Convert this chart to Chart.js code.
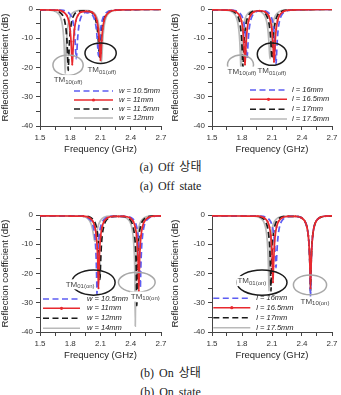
<!DOCTYPE html>
<html><head><meta charset="utf-8">
<script src="https://cdn.jsdelivr.net/npm/chart.js@4"></script>
<style>
html,body{margin:0;padding:0;background:#fff;}
body{width:341px;height:395px;position:relative;overflow:hidden;}
canvas{position:absolute;}
.cap{position:absolute;left:0;width:341px;text-align:center;font-family:"Liberation Serif","Noto Sans CJK KR",serif;font-size:12px;line-height:14px;color:#222;word-spacing:2px;white-space:nowrap;}
</style></head><body>
<canvas id="c1" width="170" height="160" style="left:0;top:0"></canvas>
<canvas id="c2" width="171" height="160" style="left:170px;top:0"></canvas>
<canvas id="c3" width="170" height="171" style="left:0;top:195px"></canvas>
<canvas id="c4" width="171" height="171" style="left:170px;top:195px"></canvas>
<div class="cap" style="top:160px">(a) Off 상태</div>
<div class="cap" style="top:179px">(a) Off state</div>
<div class="cap" style="top:366px">(b) On 상태</div>
<div class="cap" style="top:385px">(b) On state</div>
<script>
// ---------- tick values / labels ----------
const xTicks = [1.5,1.65,1.8,1.95,2.1,2.25,2.4,2.55,2.7];
const xTickLabels = ['1.5','','1.8','','2.1','','2.4','','2.7'];
const yTicks = [-40,-35,-30,-25,-20,-15,-10,-5,0];
const yTickLabels = ['-40','','-30','','-20','','-10','','0'];

// ---------- series: [frequency GHz, reflection coefficient dB] ----------
// (a) Off state, width sweep
const offW105 = [[1.5,-0.3],[1.65,-0.35],[1.71,-0.4],[1.77,-0.95],[1.805,-2.2],[1.825,-4.1],[1.838,-6.8],[1.848,-10.7],[1.855,-15],[1.86,-17],[1.865,-15],[1.872,-10.7],[1.882,-6.8],[1.895,-4.1],[1.915,-2.2],[1.95,-1.2],[1.97,-1.3],[1.99,-1.2],[2.025,-2.3],[2.045,-4.1],[2.058,-6.7],[2.068,-10.5],[2.075,-14.3],[2.08,-16],[2.085,-14.3],[2.092,-10.5],[2.102,-6.7],[2.115,-4.1],[2.135,-2.2],[2.17,-0.95],[2.23,-0.4],[2.4,-0.2],[2.7,-0.1]];
const offW11 = [[1.5,-0.3],[1.6,-0.35],[1.67,-0.4],[1.73,-0.95],[1.765,-2.2],[1.785,-4.1],[1.798,-6.9],[1.808,-11.1],[1.815,-16.1],[1.82,-19],[1.825,-16.1],[1.832,-11.1],[1.842,-6.9],[1.855,-4.1],[1.875,-2.2],[1.91,-1.0],[1.96,-0.8],[2.01,-1.0],[2.045,-2.2],[2.065,-4.1],[2.078,-6.8],[2.088,-10.7],[2.095,-15],[2.1,-17.5],[2.105,-15],[2.112,-10.7],[2.122,-6.8],[2.135,-4.1],[2.155,-2.2],[2.19,-0.95],[2.25,-0.4],[2.4,-0.2],[2.7,-0.1]];
const offW115 = [[1.5,-0.3],[1.57,-0.35],[1.63,-0.4],[1.69,-0.95],[1.725,-2.2],[1.745,-4.1],[1.758,-7.0],[1.768,-11.3],[1.775,-17.0],[1.78,-21],[1.785,-17.0],[1.792,-11.3],[1.802,-7.0],[1.815,-4.1],[1.835,-2.2],[1.87,-0.95],[1.935,-0.6],[2.0,-0.95],[2.035,-2.2],[2.055,-4.1],[2.068,-6.7],[2.078,-10.6],[2.085,-14.6],[2.09,-16.5],[2.095,-14.6],[2.102,-10.6],[2.112,-6.7],[2.125,-4.1],[2.145,-2.2],[2.18,-0.95],[2.24,-0.4],[2.4,-0.2],[2.7,-0.1]];
const offW12 = [[1.5,-0.35],[1.6,-0.4],[1.66,-0.95],[1.695,-2.2],[1.715,-4.2],[1.728,-7.0],[1.738,-11.4],[1.745,-17.4],[1.75,-22],[1.755,-17.4],[1.762,-11.4],[1.772,-7.0],[1.785,-4.2],[1.805,-2.2],[1.84,-0.95],[1.93,-0.5],[2.02,-0.95],[2.055,-2.2],[2.075,-4.1],[2.088,-6.9],[2.098,-10.9],[2.105,-15.6],[2.11,-18],[2.115,-15.6],[2.122,-10.9],[2.132,-6.9],[2.145,-4.1],[2.165,-2.2],[2.2,-0.95],[2.26,-0.4],[2.4,-0.2],[2.7,-0.1]];

// (a) Off state, length sweep
const offL16 = [[1.5,-0.3],[1.64,-0.35],[1.70,-0.4],[1.76,-0.95],[1.795,-2.2],[1.815,-4.1],[1.828,-6.8],[1.838,-10.7],[1.845,-15],[1.85,-17],[1.855,-15],[1.862,-10.7],[1.872,-6.8],[1.885,-4.1],[1.905,-2.2],[1.94,-0.95],[1.995,-0.6],[2.05,-0.95],[2.085,-2.2],[2.105,-4.1],[2.118,-6.9],[2.128,-11.1],[2.135,-16.1],[2.14,-19],[2.145,-16.1],[2.152,-11.1],[2.162,-6.9],[2.175,-4.1],[2.195,-2.2],[2.23,-0.95],[2.29,-0.4],[2.45,-0.2],[2.7,-0.1]];
const offL165 = [[1.5,-0.3],[1.62,-0.35],[1.68,-0.4],[1.74,-0.95],[1.775,-2.2],[1.795,-4.1],[1.808,-6.9],[1.818,-11.1],[1.825,-16.1],[1.83,-19],[1.835,-16.1],[1.842,-11.1],[1.852,-6.9],[1.865,-4.1],[1.885,-2.2],[1.92,-0.95],[1.975,-0.6],[2.03,-0.95],[2.065,-2.2],[2.085,-4.1],[2.098,-6.9],[2.108,-10.9],[2.115,-15.6],[2.12,-18],[2.125,-15.6],[2.132,-10.9],[2.142,-6.9],[2.155,-4.1],[2.175,-2.2],[2.21,-0.95],[2.27,-0.4],[2.45,-0.2],[2.7,-0.1]];
const offL17 = [[1.5,-0.3],[1.6,-0.35],[1.66,-0.4],[1.72,-0.95],[1.755,-2.2],[1.775,-4.2],[1.788,-7.0],[1.798,-11.2],[1.805,-16.6],[1.81,-20],[1.815,-16.6],[1.822,-11.2],[1.832,-7.0],[1.845,-4.2],[1.865,-2.2],[1.9,-0.95],[1.955,-0.6],[2.01,-0.95],[2.045,-2.2],[2.065,-4.1],[2.078,-6.8],[2.088,-10.7],[2.095,-15],[2.1,-17],[2.105,-15],[2.112,-10.7],[2.122,-6.8],[2.135,-4.1],[2.155,-2.2],[2.19,-0.95],[2.25,-0.4],[2.45,-0.2],[2.7,-0.1]];
const offL175 = [[1.5,-0.3],[1.58,-0.35],[1.64,-0.4],[1.70,-0.95],[1.735,-2.2],[1.755,-4.2],[1.768,-7.0],[1.778,-11.3],[1.785,-17.0],[1.79,-21],[1.795,-17.0],[1.802,-11.3],[1.812,-7.0],[1.825,-4.2],[1.845,-2.2],[1.88,-0.95],[1.935,-0.6],[1.99,-0.95],[2.025,-2.2],[2.045,-4.1],[2.058,-6.8],[2.068,-10.7],[2.075,-15],[2.08,-17],[2.085,-15],[2.092,-10.7],[2.102,-6.8],[2.115,-4.1],[2.135,-2.2],[2.17,-0.95],[2.23,-0.4],[2.45,-0.2],[2.7,-0.1]];

// (b) On state, width sweep
const onW105 = [[1.5,-0.3],[1.8,-0.35],[1.915,-0.4],[1.975,-0.95],[2.01,-2.2],[2.03,-4.2],[2.043,-7.1],[2.053,-11.7],[2.06,-18.5],[2.065,-27],[2.07,-18.5],[2.077,-11.7],[2.087,-7.1],[2.1,-4.2],[2.12,-2.2],[2.155,-0.95],[2.215,-0.45],[2.28,-0.5],[2.345,-0.45],[2.405,-0.95],[2.44,-2.2],[2.46,-4.2],[2.473,-7.1],[2.483,-11.6],[2.49,-18.2],[2.495,-25],[2.5,-18.2],[2.507,-11.6],[2.517,-7.1],[2.53,-4.2],[2.55,-2.2],[2.585,-0.95],[2.645,-0.4],[2.7,-0.3]];
const onW11 = [[1.5,-0.3],[1.8,-0.35],[1.93,-0.4],[1.99,-0.95],[2.025,-2.2],[2.045,-4.2],[2.058,-7.1],[2.068,-11.6],[2.075,-18.2],[2.08,-25],[2.085,-18.2],[2.092,-11.6],[2.102,-7.1],[2.115,-4.2],[2.135,-2.2],[2.17,-0.95],[2.23,-0.45],[2.28,-0.5],[2.33,-0.45],[2.39,-0.95],[2.425,-2.2],[2.445,-4.2],[2.458,-7.1],[2.468,-11.6],[2.475,-18.3],[2.48,-26],[2.485,-18.3],[2.492,-11.6],[2.502,-7.1],[2.515,-4.2],[2.535,-2.2],[2.57,-0.95],[2.63,-0.4],[2.7,-0.3]];
const onW12 = [[1.5,-0.3],[1.8,-0.35],[1.945,-0.4],[2.005,-0.95],[2.04,-2.2],[2.06,-4.2],[2.073,-7.0],[2.083,-11.4],[2.09,-17.4],[2.095,-22],[2.1,-17.4],[2.107,-11.4],[2.117,-7.0],[2.13,-4.2],[2.15,-2.2],[2.185,-0.95],[2.245,-0.45],[2.28,-0.5],[2.31,-0.45],[2.37,-0.95],[2.405,-2.2],[2.425,-4.2],[2.438,-7.1],[2.448,-11.7],[2.455,-18.9],[2.46,-31],[2.465,-18.9],[2.472,-11.7],[2.482,-7.1],[2.495,-4.2],[2.515,-2.2],[2.55,-0.95],[2.61,-0.4],[2.7,-0.3]];
const onW14 = [[1.5,-0.3],[1.8,-0.35],[1.895,-0.35],[1.955,-0.8],[1.99,-1.9],[2.01,-3.4],[2.023,-5.3],[2.033,-7.35],[2.04,-8.65],[2.045,-9],[2.05,-8.65],[2.057,-7.35],[2.067,-5.3],[2.08,-3.4],[2.1,-1.9],[2.135,-0.8],[2.195,-0.35],[2.25,-0.4],[2.295,-0.45],[2.355,-0.95],[2.39,-2.2],[2.41,-4.2],[2.423,-7.1],[2.433,-11.8],[2.44,-19.1],[2.445,-38],[2.45,-19.1],[2.457,-11.8],[2.467,-7.1],[2.48,-4.2],[2.5,-2.2],[2.535,-0.95],[2.595,-0.4],[2.7,-0.3]];

// (b) On state, length sweep
const onL16 = [[1.5,-0.3],[1.8,-0.35],[1.99,-0.4],[2.05,-0.95],[2.085,-2.2],[2.105,-4.1],[2.118,-6.9],[2.128,-10.9],[2.135,-15.6],[2.14,-18],[2.145,-15.6],[2.152,-10.9],[2.162,-6.9],[2.175,-4.1],[2.195,-2.2],[2.23,-0.95],[2.29,-0.45],[2.335,-0.45],[2.395,-0.95],[2.43,-2.2],[2.45,-4.2],[2.463,-7.1],[2.473,-11.7],[2.48,-18.6],[2.485,-28],[2.49,-18.6],[2.497,-11.7],[2.507,-7.1],[2.52,-4.2],[2.54,-2.2],[2.575,-0.95],[2.635,-0.4],[2.7,-0.3]];
const onL165 = [[1.5,-0.3],[1.8,-0.35],[1.96,-0.4],[2.02,-0.95],[2.055,-2.2],[2.075,-4.2],[2.088,-7.0],[2.098,-11.5],[2.105,-17.6],[2.11,-23],[2.115,-17.6],[2.122,-11.5],[2.132,-7.0],[2.145,-4.2],[2.165,-2.2],[2.2,-0.95],[2.26,-0.45],[2.335,-0.45],[2.395,-0.95],[2.43,-2.2],[2.45,-4.2],[2.463,-7.1],[2.473,-11.6],[2.48,-18.2],[2.485,-25],[2.49,-18.2],[2.497,-11.6],[2.507,-7.1],[2.52,-4.2],[2.54,-2.2],[2.575,-0.95],[2.635,-0.4],[2.7,-0.3]];
const onL17 = [[1.5,-0.3],[1.8,-0.35],[1.94,-0.4],[2.0,-0.95],[2.035,-2.2],[2.055,-4.2],[2.068,-7.1],[2.078,-11.6],[2.085,-18.3],[2.09,-26],[2.095,-18.3],[2.102,-11.6],[2.112,-7.1],[2.125,-4.2],[2.145,-2.2],[2.18,-0.95],[2.24,-0.45],[2.335,-0.45],[2.395,-0.95],[2.43,-2.2],[2.45,-4.2],[2.463,-7.1],[2.473,-11.6],[2.48,-18.3],[2.485,-26],[2.49,-18.3],[2.497,-11.6],[2.507,-7.1],[2.52,-4.2],[2.54,-2.2],[2.575,-0.95],[2.635,-0.4],[2.7,-0.3]];
const onL175 = [[1.5,-0.3],[1.8,-0.35],[1.92,-0.4],[1.98,-0.95],[2.015,-2.2],[2.035,-4.2],[2.048,-7.1],[2.058,-11.6],[2.065,-18.3],[2.07,-26],[2.075,-18.3],[2.082,-11.6],[2.092,-7.1],[2.105,-4.2],[2.125,-2.2],[2.16,-0.95],[2.22,-0.45],[2.335,-0.45],[2.395,-0.95],[2.43,-2.2],[2.45,-4.2],[2.463,-7.1],[2.473,-11.7],[2.48,-18.5],[2.485,-27],[2.49,-18.5],[2.497,-11.7],[2.507,-7.1],[2.52,-4.2],[2.54,-2.2],[2.575,-0.95],[2.635,-0.4],[2.7,-0.3]];

const labelsOffW = ['w = 10.5mm','w = 11mm','w = 11.5mm','w = 12mm'];
const labelsOffL = ['l = 16mm','l = 16.5mm','l = 17mm','l = 17.5mm'];
const labelsOnW  = ['w = 10.5mm','w = 11mm','w = 12mm','w = 14mm'];
const labelsOnL  = ['l = 16mm','l = 16.5mm','l = 17mm','l = 17.5mm'];

// ---------- styles ----------
const STY = [
  {c:'#5d5df2', dash:[6,3.5], order:1, pr:0},
  {c:'#e8292e', dash:[], order:0, pr:1},
  {c:'#1b1b1b', dash:[6,3.5], order:2, pr:0},
  {c:'#b9b9b9', dash:[], order:3, pr:0}
];
Chart.defaults.font.family = "'Liberation Sans', Arial, sans-serif";

const deco = {
  id:'deco',
  afterDatasetsDraw(chart, args, o) {
    const {ctx, scales:{x, y}, chartArea:ca} = chart;
    ctx.save();
    (o.rings||[]).forEach(r => {
      const cx = x.getPixelForValue(r.cx), cy = y.getPixelForValue(r.cy);
      const rx = Math.abs(x.getPixelForValue(r.cx + r.rx) - cx);
      const ry = Math.abs(y.getPixelForValue(r.cy + r.ry) - cy);
      ctx.beginPath(); ctx.ellipse(cx, cy, rx, ry, 0, 0, Math.PI*2);
      ctx.setLineDash([]); ctx.lineWidth = 1.5; ctx.strokeStyle = r.color; ctx.stroke();
    });
    (o.rings||[]).forEach(r => {
      const lx = x.getPixelForValue(r.lx), ly = y.getPixelForValue(r.ly);
      ctx.font = "8px 'Liberation Sans'";
      const w1 = ctx.measureText('TM').width;
      ctx.font = "6px 'Liberation Sans'";
      const w2 = ctx.measureText(r.sub).width;
      const x0 = lx - (w1 + w2)/2;
      ctx.fillStyle = '#fff';
      ctx.fillRect(x0 - 1, ly - 5, w1 + w2 + 2, 10);
      ctx.fillStyle = '#444'; ctx.textBaseline = 'middle'; ctx.textAlign = 'left';
      ctx.font = "8px 'Liberation Sans'"; ctx.fillText('TM', x0, ly);
      ctx.font = "6px 'Liberation Sans'"; ctx.fillText(r.sub, x0 + w1, ly + 2);
    });
    const L = o.legend;
    chart.data.datasets.forEach((d, i) => {
      const yy = ca.bottom + L.rows[i];
      const x1 = ca.left + L.x1, x2 = ca.left + L.x2;
      ctx.beginPath(); ctx.moveTo(x1, yy); ctx.lineTo(x2, yy);
      ctx.setLineDash(d.borderDash || []); ctx.lineWidth = 1.5; ctx.strokeStyle = d.borderColor; ctx.stroke();
      ctx.setLineDash([]);
      if (d.pointRadius > 0) {
        ctx.beginPath(); ctx.arc((x1+x2)/2, yy, 1.6, 0, Math.PI*2); ctx.fillStyle = d.borderColor; ctx.fill();
      }
      ctx.fillStyle = '#222'; ctx.font = "italic 7.5px 'Liberation Sans'";
      ctx.textBaseline = 'middle'; ctx.textAlign = 'left';
      ctx.fillText(d.label, ca.left + L.tx, yy);
    });
    ctx.restore();
  }
};

function makeChart(id, series, labels, padTop, yWidth, rings, legend) {
  const datasets = series.map((s, i) => ({
    label: labels[i],
    data: s.map(p => ({x:p[0], y:p[1]})),
    borderColor: STY[i].c, backgroundColor: STY[i].c,
    borderDash: STY[i].dash, borderWidth: 1.7,
    pointRadius: STY[i].pr, pointHoverRadius: 0, pointBorderWidth: 0,
    order: STY[i].order, cubicInterpolationMode: 'monotone', fill: false
  }));
  return new Chart(document.getElementById(id), {
    type: 'line',
    data: {datasets},
    options: {
      responsive: false, animation: false, devicePixelRatio: 1,
      layout: {padding: {left:0, right:9, top:padTop, bottom:0}},
      plugins: {legend:{display:false}, tooltip:{enabled:false}, deco:{rings, legend}},
      scales: {
        x: {
          type:'linear', min:1.5, max:2.7,
          afterBuildTicks: s => { s.ticks = xTicks.map(v => ({value:v})); },
          afterFit: s => { s.height = 34; },
          ticks: {autoSkip:false, maxRotation:0, padding:3, color:'#333', font:{size:8}, callback:(v,i) => xTickLabels[i]},
          grid: {display:true, drawOnChartArea:false, drawTicks:true, tickLength:4, color:'#444', lineWidth:1},
          border: {display:true, color:'#444', width:1},
          title: {display:true, text:'Frequency (GHz)', color:'#222', font:{size:9.5}, padding:{top:0, bottom:5}}
        },
        y: {
          type:'linear', min:-40, max:0,
          afterBuildTicks: s => { s.ticks = yTicks.map(v => ({value:v})); },
          afterFit: s => { s.width = yWidth; },
          ticks: {autoSkip:false, padding:3, color:'#333', font:{size:8}, callback:(v,i) => yTickLabels[i]},
          grid: {display:true, drawOnChartArea:false, drawTicks:true, tickLength:4, color:'#444', lineWidth:1},
          border: {display:true, color:'#444', width:1},
          title: {display:true, text:'Reflection coefficient (dB)', color:'#222', font:{size:9.5}, padding:{top:0, bottom:0}}
        }
      }
    },
    plugins: [deco]
  });
}

makeChart('c1', [offW105, offW11, offW115, offW12], labelsOffW, 9, 40,
  [{cx:1.778, cy:-19.2, rx:0.15, ry:3.5, color:'#a8a8a8', sub:'10(off)', lx:1.778, ly:-24.3},
   {cx:2.101, cy:-15.1, rx:0.155, ry:3.5, color:'#1b1b1b', sub:'01(off)', lx:2.113, ly:-20.9}],
  {x1:34, x2:73, tx:79, rows:[-35,-26,-17,-8]});
makeChart('c2', [offL16, offL165, offL17, offL175], labelsOffL, 9, 42,
  [{cx:1.785, cy:-19.05, rx:0.13, ry:3.3, color:'#a8a8a8', sub:'10(off)', lx:1.799, ly:-21.4},
   {cx:2.10, cy:-15.45, rx:0.147, ry:3.8, color:'#1b1b1b', sub:'01(off)', lx:2.098, ly:-21.2}],
  {x1:38, x2:75, tx:80, rows:[-36,-26.7,-16.7,-7]});
makeChart('c3', [onW105, onW11, onW12, onW14], labelsOnW, 20, 40,
  [{cx:2.03, cy:-23.1, rx:0.215, ry:4.3, color:'#1b1b1b', sub:'01(on)', lx:1.898, ly:-23.7},
   {cx:2.46, cy:-23.0, rx:0.182, ry:3.4, color:'#a8a8a8', sub:'10(on)', lx:2.544, ly:-27.9}],
  {x1:3, x2:40, tx:47, rows:[-33,-23.7,-13.7,-3.7]});
makeChart('c4', [onL16, onL165, onL17, onL175], labelsOnL, 20, 42,
  [{cx:2.0, cy:-23.1, rx:0.25, ry:4.3, color:'#1b1b1b', sub:'01(on)', lx:1.899, ly:-22.6},
   {cx:2.48, cy:-23.9, rx:0.166, ry:3.4, color:'#a8a8a8', sub:'10(on)', lx:2.53, ly:-29.6}],
  {x1:1.3, x2:38.3, tx:44.3, rows:[-33.7,-24.3,-14.3,-4.3]});
</script>
</body></html>
